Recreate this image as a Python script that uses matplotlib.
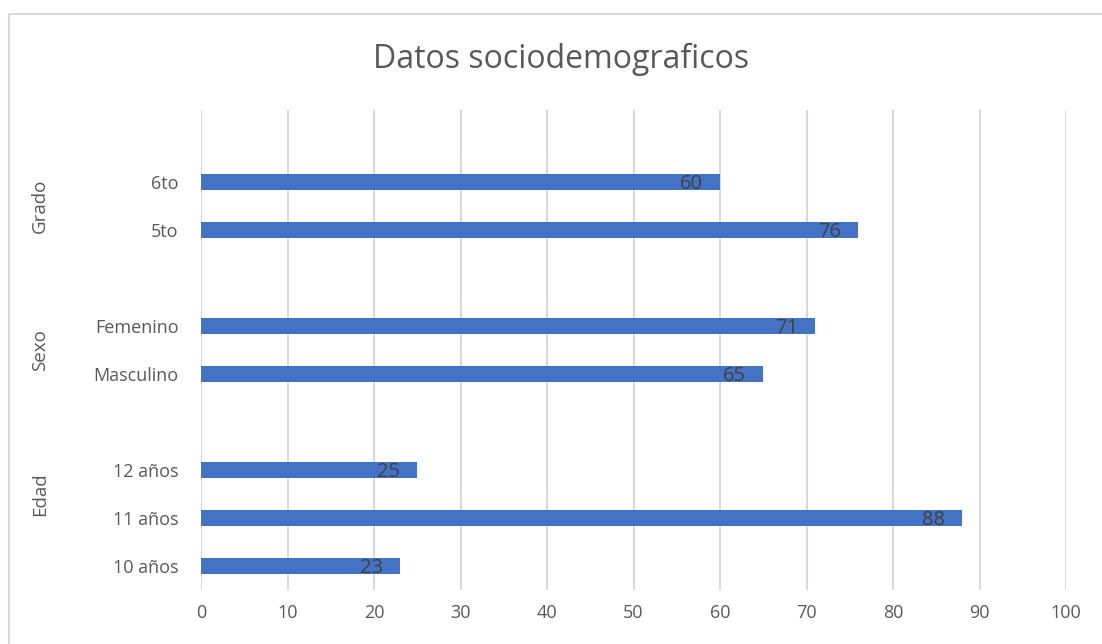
import matplotlib.pyplot as plt
from matplotlib.patches import Rectangle

plt.rcParams['font.family'] = ['Open Sans', 'DejaVu Sans']

# categories from bottom to top, grouped
groups = ['Edad', 'Sexo', 'Grado']
edad_labels = ['10 años', '11 años', '12 años']
edad_values = [23, 88, 25]
sexo_labels = ['Masculino', 'Femenino']
sexo_values = [65, 71]
grado_labels = ['5to', '6to']
grado_values = [76, 60]

BAR_COLOR = '#4472C4'
GRID_COLOR = '#d9d9d9'
TEXT_COLOR = '#595959'

fig = plt.figure(figsize=(11.02, 6.44), dpi=100)
ax = fig.add_axes([201 / 1102, 1 - 590 / 644, (1066 - 201) / 1102, (590 - 110) / 644])

# positions: each group leaves one empty slot before the next
positions, labels, values, group_pos = [], [], [], []
pos = 0
for name, labs, vals in zip(groups, [edad_labels, sexo_labels, grado_labels],
                            [edad_values, sexo_values, grado_values]):
    start = pos
    for l, v in zip(labs, vals):
        positions.append(pos)
        labels.append(l)
        values.append(v)
        pos += 1
    # Excel centres the group label over the group's slots (incl. trailing gap for first)
    group_pos.append((name, (start + pos - 1) / 2 if start else (start + pos) / 2))
    pos += 1

ax.barh(positions, values, height=0.34, color=BAR_COLOR, zorder=3)
for p, v in zip(positions, values):
    ax.text(v - 3.3, p - 0.04, str(v), ha='center', va='center', fontsize=14.5,
            color='#404040', zorder=4)

ax.set_xlim(0, 100)
ax.set_ylim(-0.5, 9.5)
ax.set_xticks(range(0, 101, 10))
ax.set_yticks(positions)
ax.set_yticklabels(labels)
ax.tick_params(axis='both', length=0, labelsize=13, labelcolor=TEXT_COLOR)
ax.tick_params(axis='y', pad=16)
ax.tick_params(axis='x', pad=10)
ax.xaxis.grid(True, color=GRID_COLOR, linewidth=1.5, zorder=0)
for s in ax.spines.values():
    s.set_visible(False)

for name, gp in group_pos:
    y_disp = ax.transData.transform((0, gp))[1]
    y_fig = fig.transFigure.inverted().transform((0, y_disp))[1]
    fig.text(40 / 1102, y_fig, name, rotation=90, ha='center', va='center',
             fontsize=13.5, color=TEXT_COLOR)

fig.text(561 / 1102, 1 - 59 / 644, 'Datos sociodemograficos', ha='center',
         va='center', fontsize=23, color=TEXT_COLOR)

fig.patches.append(Rectangle((9 / 1102, -0.1), 1.2, 1 - 14 / 644 + 0.1,
                             transform=fig.transFigure, fill=False,
                             edgecolor=GRID_COLOR, linewidth=1.5))

fig.savefig('out.png', dpi=100)
